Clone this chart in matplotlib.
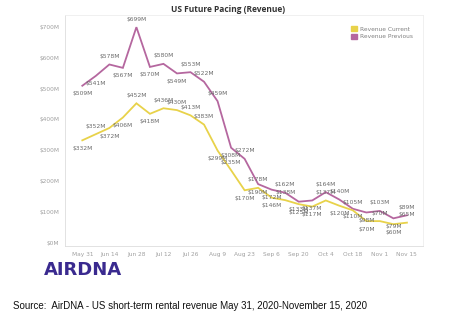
import matplotlib
matplotlib.use("Agg")
import matplotlib.pyplot as plt
from matplotlib.patches import Rectangle

# weekly points, May 31 -> Nov 15 2020
weeks = ["May 31", "Jun 7", "Jun 14", "Jun 21", "Jun 28", "Jul 5", "Jul 12", "Jul 19",
         "Jul 26", "Aug 2", "Aug 9", "Aug 16", "Aug 23", "Aug 30", "Sep 6", "Sep 13",
         "Sep 20", "Sep 27", "Oct 4", "Oct 11", "Oct 18", "Oct 25", "Nov 1", "Nov 8", "Nov 15"]
revenue_previous = [509, 541, 578, 567, 699, 570, 580, 549, 553, 522, 459, 308, 272,
                    190, 172, 162, 133, 137, 164, 140, 110, 98, 103, 79, 89]
revenue_current = [332, 352, 372, 406, 452, 418, 436, 430, 413, 383, 299, 235, 170,
                   178, 146, 138, 125, 117, 137, 120, 105, 70, 70, 60, 65]
yticks = [0, 100, 200, 300, 400, 500, 600, 700]

col_cur = "#e8d24a"
col_prev = "#b5679f"
grey = "#a0a0a0"

fig = plt.figure(figsize=(4.56, 3.29), dpi=100)
ax = fig.add_axes([0.1425, 0.252, 0.7855, 0.702])

x = list(range(len(weeks)))
ax.plot(x, revenue_previous, color=col_prev, lw=1.3, solid_joinstyle="miter")
ax.plot(x, revenue_current, color=col_cur, lw=1.3, solid_joinstyle="miter")


def label_series(vals):
    for i, v in enumerate(vals):
        prev = vals[i - 1] if i > 0 else v + 1
        nxt = vals[i + 1] if i < len(vals) - 1 else v
        above = v >= (prev + nxt) / 2 and i > 0
        dy = 4 if above else -4
        ax.annotate(f"${v}M", (i, v), xytext=(0, dy), textcoords="offset points",
                    ha="center", va="bottom" if above else "top",
                    fontsize=4.3, color="#6a6a6a")


label_series(revenue_previous)
label_series(revenue_current)

ax.set_xlim(-1.28, 25.2)
ax.set_ylim(-11, 738)
ax.set_yticks(yticks)
ax.set_yticklabels([f"${t}M" for t in yticks])
ax.set_xticks(x[::2])
ax.set_xticklabels(weeks[::2])
ax.tick_params(length=0, labelsize=4.2, labelcolor=grey, pad=4)
for side in ["top", "right"]:
    ax.spines[side].set_color("#eeeeee")
    ax.spines[side].set_linewidth(0.6)
for side in ["left", "bottom"]:
    ax.spines[side].set_color("#dddddd")
    ax.spines[side].set_linewidth(0.6)

# legend
handles = [Rectangle((0, 0), 1, 1, color=col_cur), Rectangle((0, 0), 1, 1, color=col_prev)]
ax.legend(handles, ["Revenue Current", "Revenue Previous"], loc="upper right",
          bbox_to_anchor=(0.985, 0.975), frameon=False, fontsize=4.2,
          handlelength=1.0, handleheight=1.0, handletextpad=0.5, labelspacing=0.3,
          labelcolor="#808080")

fig.text(0.5, 0.972, "US Future Pacing (Revenue)", ha="center", va="center",
         fontsize=6, color="#333333", fontweight="bold", family="Open Sans")

fig.text(0.097, 0.178, "AIRDNA", ha="left", va="center", fontsize=13,
         fontweight="bold", color="#3a2a8f", family="DejaVu Sans")

fig.text(0.028, 0.07, "Source:  AirDNA - US short-term rental revenue May 31, 2020-November 15, 2020",
         ha="left", va="center", fontsize=7, color="#111111", family="Liberation Sans")

fig.savefig("out.png", dpi=100)
